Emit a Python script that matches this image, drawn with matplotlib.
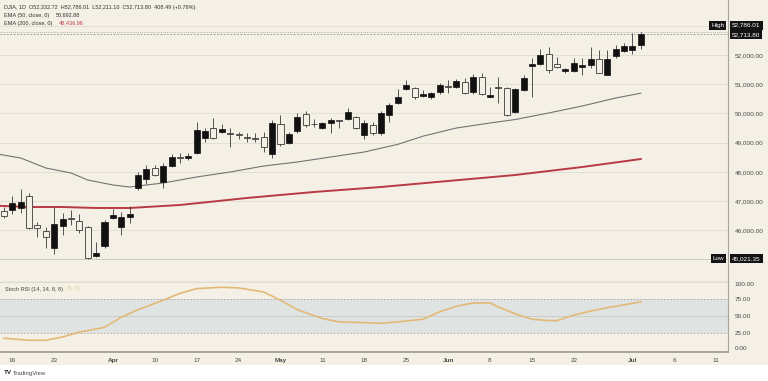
import numpy as np
import matplotlib.pyplot as plt
import matplotlib.transforms as mtransforms
from matplotlib.patches import Rectangle

plt.rcParams['font.family'] = ['Liberation Sans', 'DejaVu Sans']

# daily bars, DJIA
opens = [46657, 46691, 46760, 47171, 46178, 45972, 45390, 46143, 46417, 46314,
         46109, 45116, 45459, 46417, 46109, 46452, 47445, 47753, 48130, 47650,
         48198, 48490, 48472, 48644, 49157, 49500, 49363, 49340, 49280, 49180,
         49170, 49192, 48610, 49637, 48986, 49397, 49980, 49650, 49500, 49671,
         49760, 49808, 49877, 49260, 49603, 49329, 49945, 50356, 50836, 50870,
         50596, 50562, 50733, 50950, 50904, 51075, 50733, 51247, 50562, 50890,
         50870, 50048, 50801, 51623, 51692, 52034, 51692, 51452, 51452, 51589,
         51658, 51863, 51315, 51966, 52137, 52171, 52332.72]
highs = [46794, 47171, 47411, 47274, 46280, 46109, 46794, 46588, 46691, 46554,
         46140, 45595, 46349, 46725, 46623, 46828, 47993, 48233, 48233, 48301,
         48610, 48644, 48644, 49706, 49500, 49842, 49637, 49500, 49363, 49329,
         49329, 49363, 49774, 49945, 49363, 50014, 50082, 49808, 49706, 49842,
         49774, 50185, 49911, 49774, 49706, 50082, 50356, 50836, 51144, 50904,
         50801, 50733, 51041, 51144, 51178, 51212, 51349, 51384, 50904, 51247,
         50904, 50870, 51315, 51897, 52206, 52274, 51932, 51555, 51897, 51897,
         52274, 52171, 52171, 52343, 52411, 52754, 52786.01]
lows = [46417, 46554, 46588, 46040, 45767, 45390, 45185, 45835, 46178, 45904,
        45021.35, 45082, 45390, 46383, 45835, 46246, 47376, 47582, 47856, 47445,
        48164, 48301, 48404, 48610, 49020, 49123, 49329, 48850, 49123, 49020,
        49020, 48678, 48472, 48900, 48952, 49329, 49534, 49534, 49466, 49329,
        49500, 49774, 49466, 49123, 49260, 49260, 49706, 50322, 50801, 50493,
        50562, 50493, 50664, 50699, 50870, 50680, 50664, 50630, 50545, 50356,
        49911, 50014, 50780, 50562, 51658, 51384, 51570, 51384, 51418, 51315,
        51555, 51370, 51300, 51897, 52103, 52034, 52211.10]
closes = [46486, 46931, 46966, 46075, 46075, 45767, 46212, 46383, 46383, 46006,
          45048, 45219, 46280, 46520, 46452, 46554, 47890, 48096, 47890, 48198,
          48507, 48460, 48541, 49431, 49397, 49157, 49466, 49300, 49250, 49157,
          49140, 48850, 49671, 48952, 49294, 49877, 49603, 49620, 49671, 49774,
          49730, 50048, 49500, 49671, 49329, 50014, 50288, 50562, 50973, 50562,
          50664, 50699, 50973, 50904, 51110, 50699, 51247, 50664, 50630, 50860,
          49945, 50836, 51212, 51692, 52000, 51486, 51589, 51521, 51726, 51658,
          51863, 51384, 51863, 52206, 52308, 52305.31, 52713.80]

ema50_idx = [-1, 2, 5, 8, 10, 13, 15, 19, 21, 23, 27, 31, 35, 39, 43, 47, 50, 54, 58, 61, 65, 69, 73, 76]
ema50 = [48620, 48472, 48130, 47959, 47719, 47548, 47479, 47616, 47719, 47822, 47993, 48198, 48335,
         48507, 48678, 48940, 49220, 49500, 49671, 49790, 50014, 50253, 50527, 50692.88]
ema200_idx = [-1, 3, 7, 11, 15, 21, 29, 37, 45, 53, 61, 69, 76]
ema200 = [46840, 46794, 46794, 46760, 46760, 46863, 47103, 47308, 47479, 47685, 47890, 48164, 48436.96]

rsi_idx = [0, 3, 5, 7, 9, 12, 14, 16, 19, 21, 23, 26, 28, 31, 33, 35, 38, 40, 43, 45,
           47, 50, 52, 54, 56, 58, 59, 61, 63, 65, 66, 68, 70, 72, 74, 76]
rsi = [18, 15, 15, 20, 27, 34, 49, 60, 74, 84, 91, 93, 92, 86, 74, 60, 47, 42, 41, 40,
       42, 46, 57, 65, 70, 70, 64, 54, 46, 44, 44, 52, 58, 63, 67, 71.71]

date_pos = [1, 6, 13, 18, 23, 28, 33, 38, 43, 48, 53, 58, 63, 68, 75, 80, 85]
date_lbl = ['16', '23', 'Apr', '10', '17', '24', 'May', '11', '18', '25', 'Jun', '8', '15', '22', 'Jul', '6', '11']
price_ticks = [46000, 47000, 48000, 49000, 50000, 51000, 52000]
rsi_ticks = [0, 25, 50, 75, 100]

BG = '#f4f0e6'
GRID = '#e3dfd3'
TXT = '#4a4a4a'

W, H = 768, 381
fig = plt.figure(figsize=(W / 100, H / 100), dpi=100)
fig.patch.set_facecolor('white')
fig.patches.append(Rectangle((0, 1 - 365 / H), 1, 365 / H, transform=fig.transFigure,
                             facecolor=BG, edgecolor='none', zorder=-5))


def frac(l, t, r, b):
    return [l / W, 1 - b / H, (r - l) / W, (b - t) / H]


ax = fig.add_axes(frac(0, 0, 728, 282))
ax2 = fig.add_axes(frac(0, 282, 728, 352), sharex=ax)
for a in (ax, ax2):
    a.set_facecolor(BG)
    a.spines['top'].set_visible(False)
    a.spines['left'].set_visible(False)
    a.spines['right'].set_color('#a9a49a')
    a.spines['right'].set_linewidth(0.8)

# candles
x = np.arange(len(opens))
o = np.array(opens)
c = np.array(closes)
h = np.array(highs)
l = np.array(lows)
up = c > o
lo = np.minimum(o, c)
bh = np.maximum(np.abs(c - o), 30)
ax.vlines(x, l, h, color='#3a3a3a', lw=0.6, zorder=2)
ax.bar(x[up], bh[up], bottom=lo[up], width=0.72, color='#111111', edgecolor='#111111', lw=0.5, zorder=3)
ax.bar(x[~up], bh[~up], bottom=lo[~up], width=0.72, color=BG, edgecolor='#3a3a3a', lw=0.6, zorder=3)

ax.plot(ema50_idx, ema50, color='#747474', lw=0.8, zorder=1)
ax.plot(ema200_idx, ema200, color='#b83a44', lw=1.4, zorder=1)

for p in range(45000, 54000, 1000):
    ax.axhline(p, color=GRID, lw=0.7, zorder=0)
ax.axhline(closes[-1], color='#8c8c8c', lw=0.6, ls=(0, (2, 2)), zorder=1)
ax.axhline(highs[-1], color='#a0a0a0', lw=0.6, ls=(0, (1, 1.5)), zorder=1)
ax.axhline(min(lows), color='#a0a0a0', lw=0.6, ls=(0, (1, 1.5)), zorder=1)

ax.set_xlim(-0.47, 86.4)
ax.set_ylim(44225, 53884)
ax.yaxis.tick_right()
ax.set_yticks(price_ticks)
ax.set_yticklabels([f'{v:,.2f}' for v in price_ticks])
ax.tick_params(axis='y', length=0, pad=5, labelsize=4.6, labelcolor=TXT)
ax.tick_params(axis='x', bottom=False, labelbottom=False)
ax.spines['bottom'].set_color('#c3beb2')
ax.spines['bottom'].set_linewidth(1.0)

# price boxes on the right
tr = mtransforms.blended_transform_factory(ax.transAxes, ax.transData)
box = dict(boxstyle='square,pad=0.3', fc='#131313', ec='none')
ax.annotate(f'{highs[-1]:,.2f}', xy=(1, highs[-1]), xycoords=tr, xytext=(3, 5), textcoords='offset points',
            fontsize=4.6, color='white', va='center', ha='left', bbox=box, annotation_clip=False)
ax.annotate('High', xy=(1, highs[-1]), xycoords=tr, xytext=(-2.5, 5), textcoords='offset points',
            fontsize=4.6, color='white', va='center', ha='right', bbox=box, annotation_clip=False)
ax.annotate(f'{closes[-1]:,.2f}', xy=(1, closes[-1]), xycoords=tr, xytext=(3, -0.5), textcoords='offset points',
            fontsize=4.6, color='white', va='center', ha='left', bbox=box, annotation_clip=False)
ax.annotate(f'{min(lows):,.2f}', xy=(1, min(lows)), xycoords=tr, xytext=(3, 0), textcoords='offset points',
            fontsize=4.6, color='white', va='center', ha='left', bbox=box, annotation_clip=False)
ax.annotate('Low', xy=(1, min(lows)), xycoords=tr, xytext=(-2.5, 0), textcoords='offset points',
            fontsize=4.6, color='white', va='center', ha='right', bbox=box, annotation_clip=False)

# stoch rsi pane
ax2.axhspan(25, 75, color='#dfe3e1', zorder=0, lw=0)
ax2.axhline(75, color='#a6a6a6', lw=0.6, ls=(0, (2, 2)))
ax2.axhline(25, color='#a6a6a6', lw=0.6, ls=(0, (2, 2)))
ax2.axhline(50, color='#c9c8c0', lw=0.6)
ax2.axhline(100, color='#dcd7ca', lw=0.6)
ax2.axhline(0, color='#dcd7ca', lw=0.6)
ax2.plot(rsi_idx, rsi, color='#e3b978', lw=1.2, zorder=3)
ax2.set_ylim(-2.2, 100.7)
ax2.yaxis.tick_right()
ax2.set_yticks(rsi_ticks)
ax2.set_yticklabels([f'{v:.2f}' for v in rsi_ticks])
ax2.tick_params(axis='y', length=0, pad=5, labelsize=4.6, labelcolor=TXT)
ylabs = ax2.get_yticklabels()
ylabs[0].set_va('bottom')
ylabs[-1].set_va('top')
ax2.set_xticks(date_pos)
ax2.set_xticklabels(date_lbl)
ax2.tick_params(axis='x', length=0, pad=4, labelsize=4.6, labelcolor=TXT)
for t in ax2.get_xticklabels():
    if t.get_text() in ('Apr', 'May', 'Jun', 'Jul'):
        t.set_fontweight('bold')
ax2.spines['bottom'].set_color('#a9a49a')
ax2.spines['bottom'].set_linewidth(1.4)
ax2.text(0.007, 0.9, 'Stoch RSI (14, 14, 8, 8)', transform=ax2.transAxes, fontsize=4, color='#444444', va='center')
ax2.text(0.092, 0.9, f'{rsi[-1]:.2f}', transform=ax2.transAxes, fontsize=4, color='#e3c48f', va='center')

# legend header
fig.text(4 / W, 1 - 7 / H, 'DJIA, 1D  O52,332.72  H52,786.01  L52,211.10  C52,713.80  408.49 (+0.78%)',
         fontsize=4, color='#333333', va='center')
fig.text(4 / W, 1 - 15 / H, 'EMA (50, close, 0)', fontsize=4, color='#333333', va='center')
fig.text(56 / W, 1 - 15 / H, f'{ema50[-1]:,.2f}', fontsize=4, color='#333333', va='center')
fig.text(4 / W, 1 - 23 / H, 'EMA (200, close, 0)', fontsize=4, color='#333333', va='center')
fig.text(59 / W, 1 - 23 / H, f'{ema200[-1]:,.2f}', fontsize=4, color='#c0404a', va='center')

fig.text(4 / W, 1 - 373 / H, 'TV', fontsize=4.5, color='#222222', va='center', fontweight='bold')
fig.text(13 / W, 1 - 373 / H, 'TradingView', fontsize=4.3, color='#444444', va='center')

fig.savefig('out.png', dpi=100, facecolor='white')
